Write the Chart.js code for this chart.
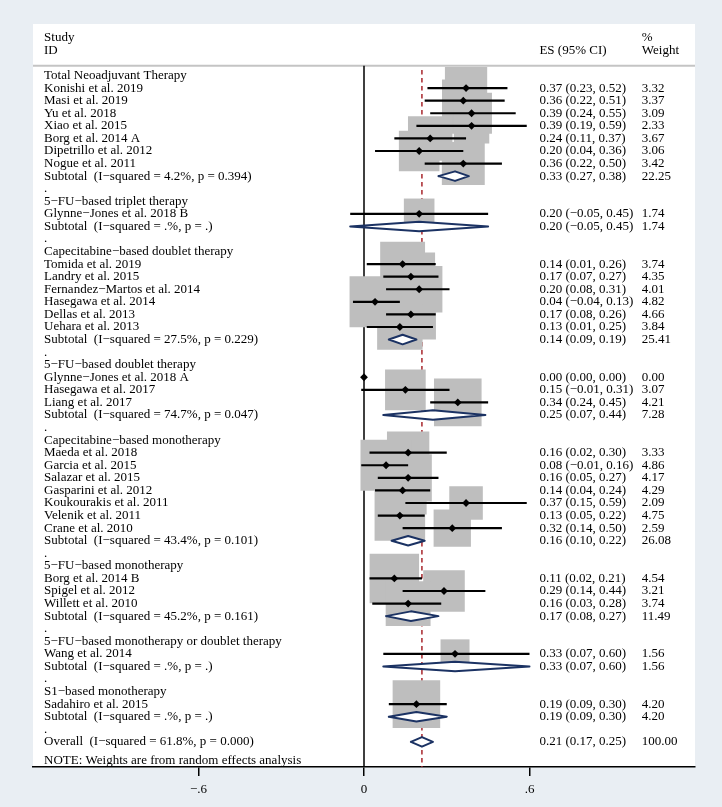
<!DOCTYPE html>
<html><head><meta charset="utf-8">
<script src="https://cdn.jsdelivr.net/npm/chart.js@4.4.1/dist/chart.umd.min.js"></script>
<style>html,body{margin:0;padding:0;background:#e9eef3;} #wrap{width:722px;height:807px;}</style>
</head><body><div id="wrap"><canvas id="c" width="722" height="807"></canvas></div>
<script>
// ---------------- DATA ----------------
const groupNames = [
  "Total Neoadjuvant Therapy",
  "5\u2212FU\u2212based triplet therapy",
  "Capecitabine\u2212based doublet therapy",
  "5\u2212FU\u2212based doublet therapy",
  "Capecitabine\u2212based monotherapy",
  "5\u2212FU\u2212based monotherapy",
  "5\u2212FU\u2212based monotherapy or doublet therapy",
  "S1\u2212based monotherapy"
];
const studyNames = [
  "Konishi et al. 2019","Masi et al. 2019","Yu et al. 2018","Xiao et al. 2015","Borg et al. 2014 A","Dipetrillo et al. 2012","Nogue et al. 2011",
  "Glynne\u2212Jones et al. 2018 B",
  "Tomida et al. 2019","Landry et al. 2015","Fernandez\u2212Martos et al. 2014","Hasegawa et al. 2014","Dellas et al. 2013","Uehara et al. 2013",
  "Glynne\u2212Jones et al. 2018 A","Hasegawa et al. 2017","Liang et al. 2017",
  "Maeda et al. 2018","Garcia et al. 2015","Salazar et al. 2015","Gasparini et al. 2012","Koukourakis et al. 2011","Velenik et al. 2011","Crane et al. 2010",
  "Borg et al. 2014 B","Spigel et al. 2012","Willett et al. 2010",
  "Wang et al. 2014",
  "Sadahiro et al. 2015"
];
const studyGroup  = [0,0,0,0,0,0,0, 1, 2,2,2,2,2,2, 3,3,3, 4,4,4,4,4,4,4, 5,5,5, 6, 7];
const studyES     = [0.37,0.36,0.39,0.39,0.24,0.20,0.36, 0.20, 0.14,0.17,0.20,0.04,0.17,0.13, 0.00,0.15,0.34, 0.16,0.08,0.16,0.14,0.37,0.13,0.32, 0.11,0.29,0.16, 0.33, 0.19];
const studyLo     = [0.23,0.22,0.24,0.19,0.11,0.04,0.22, -0.05, 0.01,0.07,0.08,-0.04,0.08,0.01, 0.00,-0.01,0.24, 0.02,-0.01,0.05,0.04,0.15,0.05,0.14, 0.02,0.14,0.03, 0.07, 0.09];
const studyHi     = [0.52,0.51,0.55,0.59,0.37,0.36,0.50, 0.45, 0.26,0.27,0.31,0.13,0.26,0.25, 0.00,0.31,0.45, 0.30,0.16,0.27,0.24,0.59,0.22,0.50, 0.21,0.44,0.28, 0.60, 0.30];
const studyWeight = [3.32,3.37,3.09,2.33,3.67,3.06,3.42, 1.74, 3.74,4.35,4.01,4.82,4.66,3.84, 0.00,3.07,4.21, 3.33,4.86,4.17,4.29,2.09,4.75,2.59, 4.54,3.21,3.74, 1.56, 4.20];

const subtotalHet = ["4.2%, p = 0.394", ".%, p = .", "27.5%, p = 0.229", "74.7%, p = 0.047", "43.4%, p = 0.101", "45.2%, p = 0.161", ".%, p = .", ".%, p = ."];
const subtotalES     = [0.33, 0.20, 0.14, 0.25, 0.16, 0.17, 0.33, 0.19];
const subtotalLo     = [0.27, -0.05, 0.09, 0.07, 0.10, 0.08, 0.07, 0.09];
const subtotalHi     = [0.38, 0.45, 0.19, 0.44, 0.22, 0.27, 0.60, 0.30];
const subtotalWeight = [22.25, 1.74, 25.41, 7.28, 26.08, 11.49, 1.56, 4.20];

const overallHet = "61.8%, p = 0.000";
const overallES = 0.21, overallLo = 0.17, overallHi = 0.25, overallWeight = 100.00;

const tickValues = [-0.6, 0, 0.6];
const tickLabels = ["\u2212.6", "0", ".6"];

// ---------------- LAYOUT / STYLE ----------------
const X_MIN = -1.2, X_MAX = 1.2;
const Y_MIN = -4.1, Y_MAX = 55;
const COL_STUDY = -1.16, COL_ES = 0.636, COL_W = 1.007;
const FONT = '13px "Liberation Serif", "Times New Roman", serif';
const BOX_SCALE = 23.2;     // px side per sqrt(weight)
const DIAMOND_H = 0.38;     // rows
const NAVY = '#1b3263', BOXGREY = '#bebebe', MAROON = '#a8262c';

const fmt = v => (v < 0 ? '\u2212' : '') + Math.abs(v).toFixed(2);
const ciText = (e, l, h) => fmt(e) + ' (' + fmt(l) + ', ' + fmt(h) + ')';

// ---------------- BUILD ROWS ----------------
const texts = []; // {row, col, text}
texts.push({row:-3, col:COL_STUDY, text:'Study'});
texts.push({row:-2, col:COL_STUDY, text:'ID'});
texts.push({row:-2, col:COL_ES, text:'ES (95% CI)'});
texts.push({row:-3, col:COL_W, text:'%'});
texts.push({row:-2, col:COL_W, text:'Weight'});

const boxPts = [], boxRad = [], ciSeg = [], estPts = [], diamonds = [];
let row = 0;
groupNames.forEach((g, gi) => {
  texts.push({row, col:COL_STUDY, text:g});
  row++;
  studyNames.forEach((n, si) => {
    if (studyGroup[si] !== gi) return;
    texts.push({row, col:COL_STUDY, text:n});
    texts.push({row, col:COL_ES, text:ciText(studyES[si], studyLo[si], studyHi[si])});
    texts.push({row, col:COL_W, text:studyWeight[si].toFixed(2)});
    if (studyWeight[si] > 0) {
      boxPts.push({x:studyES[si], y:row});
      boxRad.push(BOX_SCALE * Math.sqrt(studyWeight[si]) / Math.SQRT2);
    }
    ciSeg.push({x:studyLo[si], y:row}, {x:studyHi[si], y:row}, {x:null, y:null});
    estPts.push({x:studyES[si], y:row});
    row++;
  });
  texts.push({row, col:COL_STUDY, text:'Subtotal  (I\u2212squared = ' + subtotalHet[gi] + ')'});
  texts.push({row, col:COL_ES, text:ciText(subtotalES[gi], subtotalLo[gi], subtotalHi[gi])});
  texts.push({row, col:COL_W, text:subtotalWeight[gi].toFixed(2)});
  diamonds.push({es:subtotalES[gi], lo:subtotalLo[gi], hi:subtotalHi[gi], row});
  row++;
  texts.push({row, col:COL_STUDY, text:'.'});
  row++;
});
texts.push({row, col:COL_STUDY, text:'Overall  (I\u2212squared = ' + overallHet + ')'});
texts.push({row, col:COL_ES, text:ciText(overallES, overallLo, overallHi)});
texts.push({row, col:COL_W, text:overallWeight.toFixed(2)});
diamonds.push({es:overallES, lo:overallLo, hi:overallHi, row});
texts.push({row: row + 1.5, col:COL_STUDY, text:'NOTE: Weights are from random effects analysis'});

// ---------------- DATASETS ----------------
const datasets = [];
diamonds.forEach(d => {
  datasets.push({
    data:[{x:d.lo,y:d.row},{x:d.es,y:d.row-DIAMOND_H},{x:d.hi,y:d.row},{x:d.es,y:d.row+DIAMOND_H},{x:d.lo,y:d.row}],
    showLine:true, fill:'shape', backgroundColor:'#ffffff', borderColor:NAVY, borderWidth:2,
    borderJoinStyle:'round', borderCapStyle:'round', pointRadius:0, tension:0, order:0
  });
});
datasets.push({data:estPts, pointStyle:'rectRot', pointRadius:3.9, backgroundColor:'#000', borderWidth:0, showLine:false, order:1});
datasets.push({data:ciSeg, showLine:true, borderColor:'#000', borderWidth:2.2, pointRadius:0, spanGaps:false, order:2});
datasets.push({data:boxPts, pointStyle:'rect', pointRadius:boxRad, backgroundColor:BOXGREY, borderWidth:0, showLine:false, order:3});
datasets.push({data:[{x:overallES,y:-0.45},{x:overallES,y:Y_MAX}], showLine:true, borderColor:MAROON, borderWidth:1.5, borderDash:[4.5,3.5], pointRadius:0, order:4});
datasets.push({data:[{x:0,y:-0.78},{x:0,y:Y_MAX}], showLine:true, borderColor:'#000', borderWidth:1.5, pointRadius:0, order:5});
datasets.push({data:[{x:X_MIN,y:-0.78},{x:X_MAX,y:-0.78}], showLine:true, borderColor:'#c4c4c4', borderWidth:2, pointRadius:0, order:6});

const bgPlugin = {
  id:'bg',
  beforeDraw(chart){
    const {ctx, chartArea:a} = chart;
    ctx.save();
    ctx.fillStyle = '#e9eef3';
    ctx.fillRect(0,0,chart.width,chart.height);
    ctx.fillStyle = '#ffffff';
    ctx.fillRect(a.left, a.top, a.right-a.left, a.bottom-a.top);
    ctx.restore();
  }
};
const textPlugin = {
  id:'txt',
  afterDraw(chart){
    const {ctx} = chart, xs = chart.scales.x, ys = chart.scales.y;
    ctx.save();
    ctx.font = FONT; ctx.fillStyle = '#000'; ctx.textAlign = 'left'; ctx.textBaseline = 'middle';
    texts.forEach(t => ctx.fillText(t.text, xs.getPixelForValue(t.col), ys.getPixelForValue(t.row)));
    ctx.restore();
  }
};

new Chart(document.getElementById('c'), {
  type:'scatter',
  data:{datasets},
  options:{
    responsive:false, animation:false, devicePixelRatio:1,
    layout:{autoPadding:false, padding:{left:33, right:27, top:24, bottom:0}},
    plugins:{legend:{display:false}, tooltip:{enabled:false}},
    scales:{
      x:{type:'linear', min:X_MIN, max:X_MAX, position:'bottom',
        afterBuildTicks: s => { s.ticks = tickValues.map(v => ({value:v})); },
        afterFit: s => { s.height = 40; },
        ticks:{callback: v => tickLabels[tickValues.indexOf(v)], font:{family:'"Liberation Serif"', size:13}, color:'#000', padding:6, maxRotation:0, autoSkip:false},
        grid:{drawOnChartArea:false, drawTicks:true, tickLength:9, color:'#000', lineWidth:1.5},
        border:{display:true, color:'#000', width:1.5}
      },
      y:{type:'linear', reverse:true, min:Y_MIN, max:Y_MAX, display:false}
    }
  },
  plugins:[bgPlugin, textPlugin]
});
</script></body></html>
